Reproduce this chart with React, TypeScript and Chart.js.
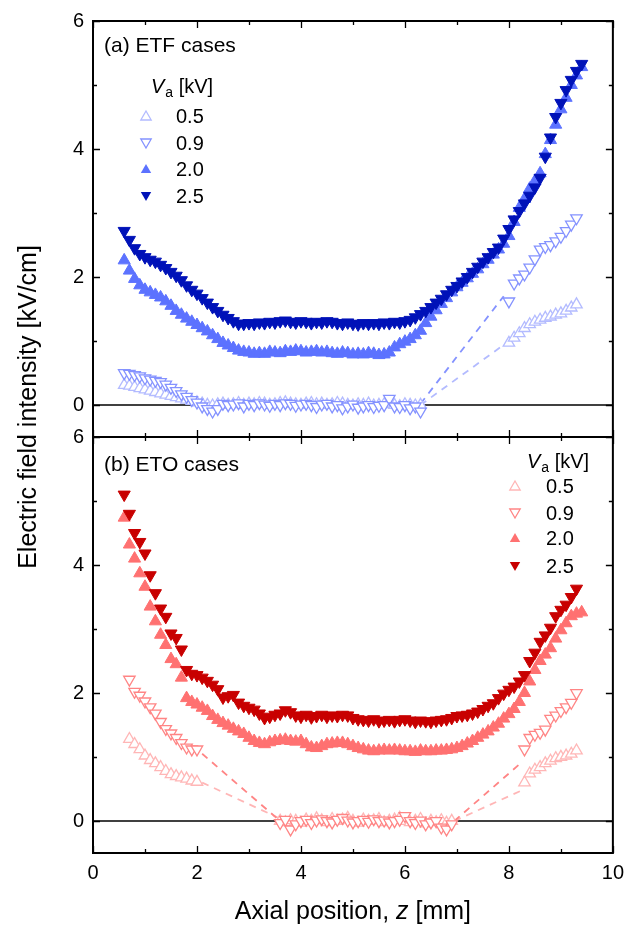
import React, { useEffect, useRef } from 'react';
import { Chart, registerables } from 'chart.js';

Chart.register(...registerables);

const FONT = '"Liberation Sans", Arial, Helvetica, sans-serif';

// ---------- shared axis definitions ----------
const X_TICKS = [0, 2, 4, 6, 8, 10];
const Y_TICKS = [0, 2, 4, 6];
const LEGEND_LABELS = ['0.5', '0.9', '2.0', '2.5'];

// ---------- z grids [mm] ----------
const zFull = [0.6, 0.7, 0.8, 0.9, 1.0, 1.1, 1.2, 1.3, 1.4, 1.5, 1.6, 1.7, 1.8, 1.9, 2.0, 2.1, 2.2, 2.3, 2.4, 2.5, 2.6, 2.7, 2.8, 2.9, 3.0, 3.1, 3.2, 3.3, 3.4, 3.5, 3.6, 3.7, 3.8, 3.9, 4.0, 4.1, 4.2, 4.3, 4.4, 4.5, 4.6, 4.7, 4.8, 4.9, 5.0, 5.1, 5.2, 5.3, 5.4, 5.5, 5.6, 5.7, 5.8, 5.9, 6.0, 6.1, 6.2, 6.3, 6.4, 6.5, 6.6, 6.7, 6.8, 6.9, 7.0, 7.1, 7.2, 7.3, 7.4, 7.5, 7.6, 7.7, 7.8, 7.9, 8.0, 8.1, 8.2, 8.3, 8.4, 8.5, 8.6, 8.7, 8.8, 8.9, 9.0, 9.1, 9.2, 9.3, 9.4];
const zLowA = [0.6, 0.7, 0.8, 0.9, 1.0, 1.1, 1.2, 1.3, 1.4, 1.5, 1.6, 1.7, 1.8, 1.9, 2.0, 2.1, 2.2, 2.3, 2.4, 2.5, 2.6, 2.7, 2.8, 2.9, 3.0, 3.1, 3.2, 3.3, 3.4, 3.5, 3.6, 3.7, 3.8, 3.9, 4.0, 4.1, 4.2, 4.3, 4.4, 4.5, 4.6, 4.7, 4.8, 4.9, 5.0, 5.1, 5.2, 5.3, 5.4, 5.5, 5.6, 5.7, 5.8, 5.9, 6.0, 6.1, 6.2, 6.3];
const zHighA = [8.0, 8.1, 8.2, 8.3, 8.4, 8.5, 8.6, 8.7, 8.8, 8.9, 9.0, 9.1, 9.2, 9.3];
const zLeftB = [0.7, 0.8, 0.9, 1.0, 1.1, 1.2, 1.3, 1.4, 1.5, 1.6, 1.7, 1.8, 1.9, 2.0];
const zMidB = [3.6, 3.7, 3.8, 3.9, 4.0, 4.1, 4.2, 4.3, 4.4, 4.5, 4.6, 4.7, 4.8, 4.9, 5.0, 5.1, 5.2, 5.3, 5.4, 5.5, 5.6, 5.7, 5.8, 5.9, 6.0, 6.1, 6.2, 6.3, 6.4, 6.5, 6.6, 6.7, 6.8, 6.9];
const zRightB = [8.3, 8.4, 8.5, 8.6, 8.7, 8.8, 8.9, 9.0, 9.1, 9.2, 9.3];

// ---------- (a) ETF cases, field [kV/cm] ----------
const etf25 = [2.72, 2.58, 2.45, 2.36, 2.31, 2.27, 2.24, 2.19, 2.14, 2.08, 2.02, 1.95, 1.87, 1.8, 1.74, 1.67, 1.6, 1.53, 1.47, 1.41, 1.36, 1.31, 1.27, 1.27, 1.28, 1.27, 1.29, 1.28, 1.3, 1.29, 1.31, 1.32, 1.3, 1.29, 1.31, 1.3, 1.28, 1.3, 1.29, 1.31, 1.3, 1.28, 1.27, 1.29, 1.27, 1.26, 1.28, 1.27, 1.28, 1.27, 1.29, 1.28, 1.3, 1.29, 1.31, 1.33, 1.37, 1.42, 1.47, 1.53, 1.6, 1.66, 1.73, 1.8, 1.86, 1.93, 2.0, 2.08, 2.16, 2.24, 2.31, 2.39, 2.46, 2.6, 2.75, 2.9, 3.03, 3.15, 3.27, 3.4, 3.55, 3.88, 4.18, 4.5, 4.72, 4.92, 5.08, 5.22, 5.33];
const etf20 = [2.26, 2.1, 1.97, 1.87, 1.8, 1.76, 1.72, 1.68, 1.62, 1.55, 1.47, 1.41, 1.35, 1.3, 1.25, 1.2, 1.15, 1.09, 1.03, 0.97, 0.93, 0.89, 0.85, 0.83, 0.82, 0.8, 0.81, 0.8, 0.83, 0.82, 0.81, 0.84, 0.83, 0.85, 0.84, 0.82, 0.83, 0.84, 0.82, 0.83, 0.81, 0.8, 0.82, 0.81, 0.79, 0.8, 0.79, 0.81, 0.8, 0.78, 0.79, 0.82, 0.9, 0.95, 0.99, 1.03, 1.09, 1.16, 1.28, 1.38, 1.48, 1.58, 1.67, 1.76, 1.84, 1.91, 1.98, 2.05, 2.12, 2.2, 2.27, 2.35, 2.43, 2.52, 2.64, 2.86, 3.08, 3.22, 3.38, 3.5, 3.62, 3.92, 4.14, 4.38, 4.62, 4.8, 5.0, 5.15, 5.28];
const etf09Low = [0.5, 0.49, 0.47, 0.45, 0.42, 0.4, 0.38, 0.36, 0.32, 0.27, 0.22, 0.17, 0.13, 0.08, 0.04, -0.02, -0.06, -0.1, -0.06, 0.02, 0.0, 0.01, 0.03, -0.02, 0.02, 0.0, 0.03, 0.01, -0.01, 0.02, 0.0, 0.03, 0.02, -0.01, 0.01, 0.02, 0.0, -0.03, 0.01, 0.02, -0.02, 0.0, -0.05, -0.02, 0.01, -0.04, -0.02, 0.0, -0.03, -0.01, 0.0, 0.1, -0.02, -0.03, 0.0, -0.05, -0.02, -0.1];
const etf09High = [1.62, 1.9, 1.98, 2.04, 2.15, 2.28, 2.43, 2.47, 2.5, 2.56, 2.63, 2.72, 2.82, 2.92];
const etf05Low = [0.31, 0.3, 0.28, 0.26, 0.24, 0.22, 0.2, 0.18, 0.16, 0.14, 0.12, 0.1, 0.08, 0.06, 0.04, 0.02, 0.0, -0.01, 0.01, 0.02, 0.0, 0.01, 0.03, 0.0, 0.02, 0.01, 0.03, 0.02, 0.0, 0.01, 0.03, 0.04, 0.02, 0.01, 0.0, 0.02, 0.03, 0.01, 0.02, 0.0, 0.01, 0.03, 0.02, 0.0, -0.01, 0.01, 0.0, 0.02, -0.01, 0.0, 0.01, 0.02, 0.0, -0.02, 0.01, 0.0, -0.01, 0.0];
const etf05High = [0.97, 1.05, 1.12, 1.2, 1.26, 1.3, 1.33, 1.36, 1.38, 1.41, 1.43, 1.47, 1.52, 1.57];
const etfDashZ = [6.3, 7.9];
const etf09Dash = [0.02, 1.7];
const etf05Dash = [0.0, 0.94];

// ---------- (b) ETO cases, field [kV/cm] ----------
const eto25 = [5.1, 4.8, 4.5, 4.36, 4.18, 3.84, 3.56, 3.32, 3.19, 2.93, 2.86, 2.68, 2.36, 2.3, 2.28, 2.24, 2.19, 2.13, 2.06, 1.93, 1.95, 1.97, 1.85, 1.8, 1.77, 1.74, 1.68, 1.61, 1.63, 1.66, 1.68, 1.73, 1.7, 1.65, 1.63, 1.66, 1.62, 1.64, 1.66, 1.63, 1.65, 1.64, 1.66, 1.65, 1.61, 1.59, 1.58, 1.57, 1.59, 1.56, 1.57, 1.58, 1.56, 1.58, 1.59, 1.57, 1.55, 1.57, 1.56, 1.55, 1.57, 1.58, 1.59, 1.61, 1.64, 1.65, 1.66, 1.68, 1.71, 1.75, 1.8, 1.84, 1.92, 1.99, 2.05, 2.1, 2.18, 2.28, 2.5, 2.63, 2.8, 2.9, 3.02, 3.2, 3.3, 3.38, 3.5, 3.63];
const eto20 = [4.74, 4.32, 4.1, 3.87, 3.66, 3.35, 3.12, 2.91, 2.75, 2.53, 2.45, 2.24, 1.92, 1.86, 1.82, 1.77, 1.72, 1.64, 1.58, 1.53, 1.49, 1.44, 1.4, 1.36, 1.3, 1.25, 1.22, 1.2, 1.23, 1.25, 1.26, 1.27, 1.25, 1.24, 1.25, 1.2, 1.15, 1.14, 1.17, 1.2, 1.21, 1.22, 1.22, 1.2, 1.17, 1.14, 1.12, 1.1, 1.09, 1.1, 1.11, 1.1, 1.11, 1.1, 1.09, 1.09, 1.08, 1.1, 1.09, 1.09, 1.1, 1.1, 1.11, 1.12, 1.14, 1.17, 1.21, 1.25, 1.3, 1.35, 1.4, 1.46, 1.52, 1.6, 1.67, 1.75, 1.86, 2.0, 2.18, 2.36, 2.5, 2.6, 2.7, 2.85, 2.98, 3.09, 3.2, 3.24, 3.26];
const eto09Left = [2.21, 2.02, 1.96, 1.87, 1.78, 1.68, 1.55, 1.44, 1.37, 1.3, 1.22, 1.15, 1.12, 1.12];
const eto09Mid = [-0.03, 0.02, -0.13, -0.05, 0.0, 0.02, -0.03, 0.01, 0.03, 0.0, -0.02, 0.02, 0.05, 0.01, -0.02, 0.0, 0.02, -0.01, 0.03, 0.0, 0.01, -0.02, 0.0, 0.02, 0.08, 0.0, -0.03, 0.01, -0.05, -0.02, 0.0, -0.1, -0.13, -0.05];
const eto09Right = [1.12, 1.3, 1.35, 1.38, 1.43, 1.6, 1.65, 1.72, 1.78, 1.85, 2.0];
const eto05Left = [1.28, 1.2, 1.12, 1.02, 0.95, 0.9, 0.84, 0.78, 0.73, 0.7, 0.68, 0.66, 0.63, 0.61];
const eto05Mid = [0.0, -0.02, 0.01, 0.0, -0.03, 0.02, 0.0, 0.04, 0.01, -0.02, 0.03, 0.0, 0.02, 0.05, 0.0, -0.03, 0.02, 0.0, 0.01, 0.03, -0.02, 0.0, 0.02, 0.05, 0.0, -0.02, 0.0, 0.03, -0.04, 0.0, -0.02, 0.01, -0.03, 0.0];
const eto05Right = [0.6, 0.74, 0.8, 0.84, 0.9, 0.94, 0.98, 1.0, 1.02, 1.05, 1.1];
const etoDashLeftZ09 = [2.1, 3.6];
const etoDashLeft09 = [1.05, 0.0];
const etoDashLeftZ05 = [2.1, 3.7];
const etoDashLeft05 = [0.6, 0.0];
const etoDashRightZ = [6.95, 8.25];
const etoDashRight09 = [0.0, 0.92];
const etoDashRight05 = [0.0, 0.48];

// ---------- colours ----------
const BLUE = ['#b3bbff', '#8492ff', '#5c72ff', '#0012b8'];
const RED = ['#ffb6b6', '#ff8585', '#ff7171', '#c80000'];

const pts = (z: number[], e: number[]) => e.map((v, i) => ({ x: z[i], y: v }));

function marker(data: any[], axis: string, color: string, filled: boolean, down: boolean, order: number) {
  return {
    type: 'scatter',
    data,
    yAxisID: axis,
    showLine: false,
    order,
    pointStyle: 'triangle',
    rotation: down ? 180 : 0,
    radius: filled ? 7 : 6.6,
    backgroundColor: filled ? color : '#ffffff',
    borderColor: color,
    borderWidth: filled ? 1 : 1.3,
  };
}

function dashed(data: any[], axis: string, color: string) {
  return {
    type: 'line',
    data,
    yAxisID: axis,
    showLine: true,
    order: 10,
    borderColor: color,
    borderWidth: 1.8,
    borderDash: [7, 6],
    pointRadius: 0,
    fill: false,
  };
}

function drawTri(ctx: CanvasRenderingContext2D, cx: number, cy: number, r: number, down: boolean, color: string, filled: boolean) {
  ctx.save();
  ctx.beginPath();
  const s = down ? -1 : 1;
  ctx.moveTo(cx, cy - s * r);
  ctx.lineTo(cx + r * 0.866, cy + s * r * 0.5);
  ctx.lineTo(cx - r * 0.866, cy + s * r * 0.5);
  ctx.closePath();
  if (filled) {
    ctx.fillStyle = color;
    ctx.fill();
  } else {
    ctx.fillStyle = '#fff';
    ctx.fill();
    ctx.lineWidth = 1.3;
    ctx.strokeStyle = color;
    ctx.stroke();
  }
  ctx.restore();
}

function drawVaTitle(ctx: CanvasRenderingContext2D, x: number, baseline: number) {
  ctx.save();
  ctx.fillStyle = '#000';
  ctx.textAlign = 'left';
  ctx.textBaseline = 'alphabetic';
  ctx.font = `italic 20px ${FONT}`;
  ctx.fillText('V', x, baseline);
  let w = ctx.measureText('V').width;
  ctx.font = `14px ${FONT}`;
  ctx.fillText('a', x + w + 1, baseline + 4);
  w += 1 + ctx.measureText('a').width;
  ctx.font = `20px ${FONT}`;
  ctx.fillText(' [kV]', x + w, baseline);
  ctx.restore();
}

function drawLegend(ctx: CanvasRenderingContext2D, mx: number, tx: number, rows: number[], colors: string[]) {
  ctx.save();
  ctx.font = `20px ${FONT}`;
  ctx.fillStyle = '#000';
  ctx.textAlign = 'left';
  ctx.textBaseline = 'middle';
  LEGEND_LABELS.forEach((lab, i) => {
    const filled = i >= 2;
    const down = i % 2 === 1;
    drawTri(ctx, mx, rows[i] + (down ? -1 : 1), 6, down, colors[i], filled);
    ctx.fillText(lab, tx, rows[i] + 1);
  });
  ctx.restore();
}

const framePlugin = {
  id: 'frame',
  beforeDatasetsDraw(chart: any) {
    const { ctx } = chart;
    const x = chart.scales.x;
    ctx.save();
    ctx.strokeStyle = '#000';
    ctx.lineWidth = 1.6;
    for (const id of ['yA', 'yB']) {
      const py = chart.scales[id].getPixelForValue(0);
      ctx.beginPath();
      ctx.moveTo(x.left, py);
      ctx.lineTo(x.right, py);
      ctx.stroke();
    }
    ctx.restore();
  },
  afterDatasetsDraw(chart: any) {
    const { ctx } = chart;
    const x = chart.scales.x;
    ctx.save();
    ctx.strokeStyle = '#000';
    for (const id of ['yA', 'yB']) {
      const y = chart.scales[id];
      const top = y.top;
      const bottom = y.bottom;
      ctx.lineWidth = 1.3;
      for (let v = 0; v <= 10; v += 1) {
        const px = Math.round(x.getPixelForValue(v)) + 0.5;
        const len = v % 2 === 0 ? 7 : 4;
        ctx.beginPath();
        ctx.moveTo(px, top);
        ctx.lineTo(px, top + len);
        ctx.moveTo(px, bottom);
        ctx.lineTo(px, bottom - len);
        ctx.stroke();
      }
      for (let v = 0; v <= 6; v += 1) {
        const py = Math.round(y.getPixelForValue(v)) + 0.5;
        const len = v % 2 === 0 ? 7 : 4;
        ctx.beginPath();
        ctx.moveTo(x.left, py);
        ctx.lineTo(x.left + len, py);
        ctx.moveTo(x.right, py);
        ctx.lineTo(x.right - len, py);
        ctx.stroke();
      }
      ctx.lineWidth = 2;
      ctx.strokeRect(x.left, top, x.right - x.left, bottom - top);
    }
    ctx.restore();

    const yA = chart.scales.yA;
    const yB = chart.scales.yB;

    // panel labels
    ctx.save();
    ctx.fillStyle = '#000';
    ctx.font = `21px ${FONT}`;
    ctx.textAlign = 'left';
    ctx.textBaseline = 'alphabetic';
    ctx.fillText('(a) ETF cases', 104, yA.top + 31);
    ctx.fillText('(b) ETO cases', 104, yB.top + 34);
    ctx.restore();

    // legends
    drawVaTitle(ctx, 151, yA.top + 72);
    drawLegend(ctx, 146, 176, [yA.top + 95, yA.top + 122, yA.top + 148, yA.top + 175], BLUE);
    drawVaTitle(ctx, 527, yB.top + 31);
    drawLegend(ctx, 515, 546, [yB.top + 49, yB.top + 76, yB.top + 101, yB.top + 129], RED);

    // axis titles
    ctx.save();
    ctx.fillStyle = '#000';
    ctx.font = `25px ${FONT}`;
    ctx.textBaseline = 'alphabetic';
    ctx.translate(36, 407);
    ctx.rotate(-Math.PI / 2);
    ctx.textAlign = 'center';
    ctx.fillText('Electric field intensity [kV/cm]', 0, 0);
    ctx.restore();

    ctx.save();
    ctx.fillStyle = '#000';
    ctx.textBaseline = 'alphabetic';
    ctx.textAlign = 'left';
    const parts: [string, string][] = [
      ['Axial position, ', `25px ${FONT}`],
      ['z', `italic 25px ${FONT}`],
      [' [mm]', `25px ${FONT}`],
    ];
    let total = 0;
    for (const [t, f] of parts) { ctx.font = f; total += ctx.measureText(t).width; }
    let sx = (x.left + x.right) / 2 - total / 2;
    for (const [t, f] of parts) { ctx.font = f; ctx.fillText(t, sx, 919); sx += ctx.measureText(t).width; }
    ctx.restore();
  },
};

function yScale() {
  return {
    type: 'linear',
    position: 'left',
    stack: 'panels',
    stackWeight: 1,
    min: -0.5,
    max: 6,
    afterBuildTicks: (a: any) => { a.ticks = Y_TICKS.map((v) => ({ value: v })); },
    afterFit: (s: any) => { s.width = 93; },
    ticks: { font: { family: FONT, size: 20 }, color: '#000', padding: 9 },
    grid: { display: false, drawTicks: false },
    border: { display: false },
  };
}

export default function App() {
  const ref = useRef<HTMLCanvasElement>(null);
  useEffect(() => {
    const datasets: any[] = [
      marker(pts(zFull, etf25), 'yA', BLUE[3], true, true, 1),
      marker(pts(zFull, etf20), 'yA', BLUE[2], true, false, 2),
      marker(pts(zLowA, etf09Low).concat(pts(zHighA, etf09High)), 'yA', BLUE[1], false, true, 3),
      marker(pts(zLowA, etf05Low).concat(pts(zHighA, etf05High)), 'yA', BLUE[0], false, false, 4),
      dashed(pts(etfDashZ, etf09Dash), 'yA', BLUE[1]),
      dashed(pts(etfDashZ, etf05Dash), 'yA', BLUE[0]),
      marker(pts(zFull, eto25), 'yB', RED[3], true, true, 1),
      marker(pts(zFull, eto20), 'yB', RED[2], true, false, 2),
      marker(pts(zLeftB, eto09Left).concat(pts(zMidB, eto09Mid), pts(zRightB, eto09Right)), 'yB', RED[1], false, true, 3),
      marker(pts(zLeftB, eto05Left).concat(pts(zMidB, eto05Mid), pts(zRightB, eto05Right)), 'yB', RED[0], false, false, 4),
      dashed(pts(etoDashLeftZ09, etoDashLeft09), 'yB', RED[1]),
      dashed(pts(etoDashLeftZ05, etoDashLeft05), 'yB', RED[0]),
      dashed(pts(etoDashRightZ, etoDashRight09), 'yB', RED[1]),
      dashed(pts(etoDashRightZ, etoDashRight05), 'yB', RED[0]),
    ];
    const chart = new Chart(ref.current as HTMLCanvasElement, {
      type: 'scatter',
      data: { datasets },
      plugins: [framePlugin],
      options: {
        animation: false,
        responsive: false,
        maintainAspectRatio: false,
        devicePixelRatio: 1,
        layout: { padding: { top: 20, right: 13, bottom: 0, left: 0 } },
        plugins: { legend: { display: false }, tooltip: { enabled: false } },
        scales: {
          x: {
            type: 'linear',
            min: 0,
            max: 10,
            afterBuildTicks: (a: any) => { a.ticks = X_TICKS.map((v) => ({ value: v })); },
            afterFit: (s: any) => { s.height = 72; },
            ticks: { font: { family: FONT, size: 20 }, color: '#000', padding: 8, maxRotation: 0, autoSkip: false },
            grid: { display: false, drawTicks: false },
            border: { display: false },
          },
          yB: yScale(),
          yA: yScale(),
        },
      } as any,
    } as any);
    return () => chart.destroy();
  }, []);
  return (
    <div style={{ position: 'absolute', left: 0, top: 0, width: 632, height: 925, background: '#fff' }}>
      <canvas ref={ref} width={632} height={925} style={{ display: 'block', width: 632, height: 925 }} />
    </div>
  );
}
